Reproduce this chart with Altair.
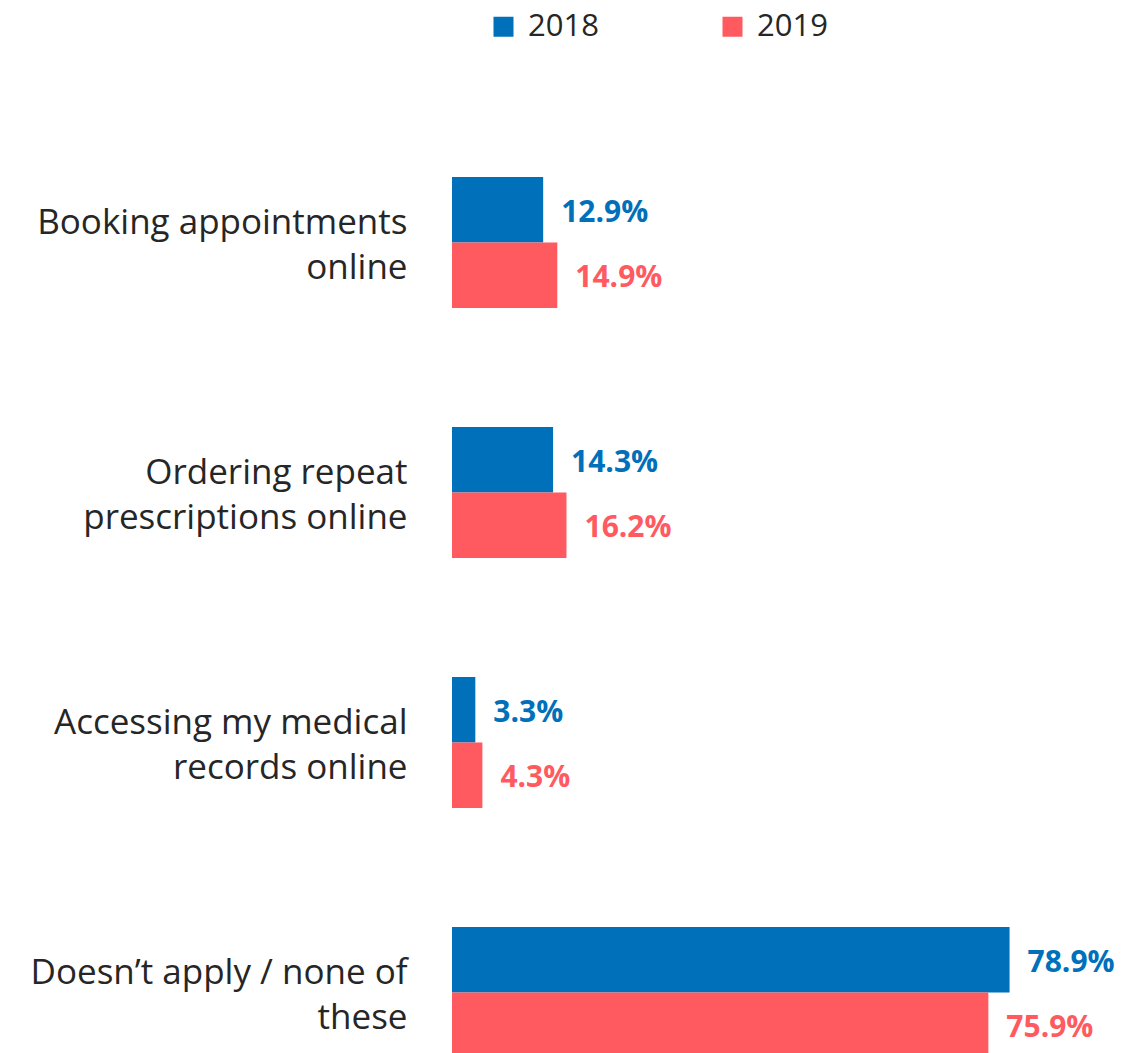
import altair as alt
import pandas as pd

categories = [
    "Booking appointments\nonline",
    "Ordering repeat\nprescriptions online",
    "Accessing my medical\nrecords online",
    "Doesn\u2019t apply / none of\nthese",
]
years = ["2018", "2019"]
values_2018 = [12.9, 14.3, 3.3, 78.9]
values_2019 = [14.9, 16.2, 4.3, 75.9]
colors = ["#0070BA", "#FF5A5F"]

rows = []
for c, a, b in zip(categories, values_2018, values_2019):
    rows.append({"category": c, "year": "2018", "value": a})
    rows.append({"category": c, "year": "2019", "value": b})
df = pd.DataFrame(rows)
df["label"] = df["value"].map(lambda v: f"{v:.1f}%")

FONT = "Open Sans"

y_enc = alt.Y(
    "category:N",
    sort=categories,
    scale=alt.Scale(paddingInner=0.476, paddingOuter=0, range=[0, 881]),
    axis=alt.Axis(
        title=None,
        domain=False,
        ticks=False,
        grid=False,
        labelPadding=45,
        labelFontSize=35,
        labelFont=FONT,
        labelColor="#262626",
        labelLimit=0,
        labelAlign="right",
        labelBaseline="middle",
        labelLineHeight=45,
        labelOffset=-20,
        labelExpr="split(datum.label, '\\n')",
    ),
)
yoff = alt.YOffset("year:N", sort=years)
x_enc = alt.X(
    "value:Q",
    scale=alt.Scale(domain=[0, 90], nice=False),
    axis=None,
)
color_scale = alt.Scale(domain=years, range=colors)
color_enc = alt.Color(
    "year:N",
    sort=years,
    scale=color_scale,
    legend=alt.Legend(
        title=None,
        orient="none",
        legendX=36,
        legendY=-166,
        padding=0,
        direction="horizontal",
        symbolType="square",
        symbolSize=400,
        symbolStrokeWidth=0,
        labelFontSize=31,
        labelFont=FONT,
        labelColor="#262626",
        labelOffset=9,
        columnPadding=118,
    ),
)

base = alt.Chart(df)
bars = base.mark_bar(size=65.5).encode(y=y_enc, yOffset=yoff, x=x_enc, color=color_enc)
texts = base.mark_text(
    align="left", baseline="middle", dx=18, dy=3, fontSize=30, fontWeight="bold", font=FONT
).encode(
    y=y_enc,
    yOffset=yoff,
    x=x_enc,
    text="label:N",
    color=alt.Color("year:N", sort=years, scale=color_scale, legend=None),
)

chart = (
    alt.layer(bars, texts)
    .properties(
        width=636,
        height=876,
        autosize=alt.AutoSizeParams(type="none"),
        padding={"left": 444, "top": 169, "right": 40, "bottom": 0},
        view=alt.ViewBackground(stroke="transparent", strokeWidth=0),
    )
    .configure_view(stroke="transparent", strokeWidth=0)
    .configure(background="white")
)

chart.save("out.html", embed_options={"renderer": "svg", "actions": False})
